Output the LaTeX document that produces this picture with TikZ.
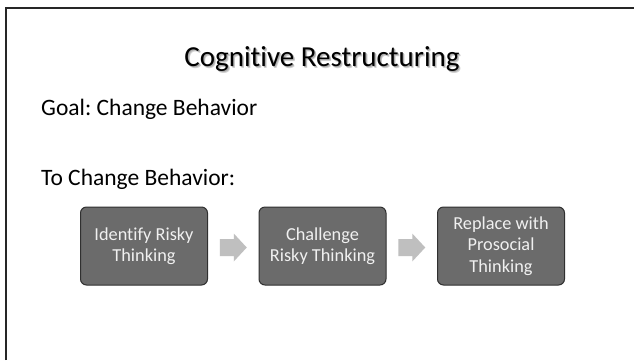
\documentclass[tikz,border=0pt]{standalone}
\usepackage{fontspec}
\setmainfont[Ligatures=NoCommon]{Carlito}
\usetikzlibrary{calc}
\definecolor{boxfill}{HTML}{6B6B6B}
\definecolor{boxline}{HTML}{303030}
\definecolor{boxtext}{HTML}{F0F0F0}
\definecolor{chev}{HTML}{BFBFBF}
\frenchspacing
% text with a soft drop shadow drawn behind it
\newcommand{\shadowed}[1]{%
  \rlap{\hspace{1.8pt}\raisebox{-1.8pt}{\color{black!18}#1}}%
  \rlap{\hspace{1.1pt}\raisebox{-1.1pt}{\color{black!32}#1}}%
  #1}
\begin{document}
\begin{tikzpicture}[x=1pt,y=-1pt,
  stepbox/.style={draw=boxline,line width=1pt,fill=boxfill,rounded corners=6pt,
    minimum width=127pt,minimum height=78pt,text width=122pt,align=flush center,
    text=boxtext,font=\fontsize{18.3}{21.5}\selectfont,inner sep=0pt},
  chevron/.style={fill=chev,draw=none},
  plain/.style={anchor=base west,inner sep=0pt,font=\fontsize{23.5}{28}\selectfont},
  titletext/.style={anchor=base,inner sep=0pt,font=\fontsize{29}{34}\selectfont}]
\useasboundingbox (0,0) rectangle (634,360);
\fill[white] (0,0) rectangle (634,360);
% slide frame
\draw[line width=2pt,black!85] (5.5,360) -- (5.5,7.5) -- (634,7.5);
% title
\node[titletext] (title) at (322,66.7) {\shadowed{Cognitive Restructuring}};
% body text
\node[plain] (goal) at (41,115.7) {Goal: Change Behavior};
\node[plain] (to) at (41,185.5) {To Change Behavior:};
% process steps
\node[stepbox] (s1) at (144,246) {Identify Risky\\Thinking};
\node[stepbox] (s2) at (322.5,246) {Challenge\\Risky Thinking};
\node[stepbox] (s3) at (501,246) {Replace with\\Prosocial\\Thinking};
% chevron arrows between steps
\foreach \a/\b in {s1/s2,s2/s3}{
  \coordinate (m) at ($(\a.east)!0.5!(\b.west)+(0,1.5)$);
  \fill[chevron] ($(m)+(-13.5,-8.5)$) -- ($(m)+(0.5,-8.5)$) -- ($(m)+(0.5,-14)$)
    -- ($(m)+(13.5,0)$) -- ($(m)+(0.5,14)$) -- ($(m)+(0.5,8.5)$)
    -- ($(m)+(-13.5,8.5)$) -- cycle;
}
\end{tikzpicture}
\end{document}
